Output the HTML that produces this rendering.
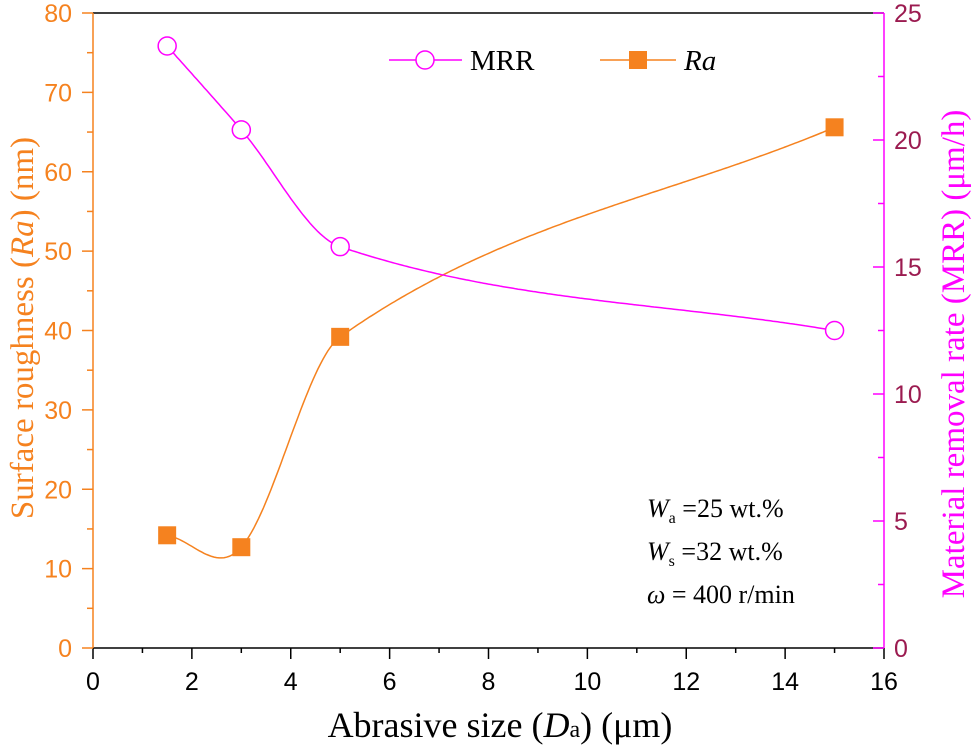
<!DOCTYPE html>
<html><head><meta charset="utf-8"><style>
body{margin:0;background:#fff}
svg{display:block;font-family:"Liberation Sans",sans-serif}
.serif{font-family:"Liberation Serif",serif}
</style></head><body>
<svg id="chart" width="975" height="746" xmlns="http://www.w3.org/2000/svg">
<g id="axes"></g><g id="series"></g>
<g class="serif">
 <line x1="389" y1="60" x2="462" y2="60" stroke="#ff00ff" stroke-width="1.5"/>
 <circle cx="425" cy="60" r="9" fill="#fff" stroke="#ff00ff" stroke-width="1.5"/>
 <text x="470" y="70" font-size="29">MRR</text>
 <line x1="600" y1="60" x2="676" y2="60" stroke="#f5821f" stroke-width="1.5"/>
 <rect x="629" y="51" width="18" height="18" fill="#f5821f"/>
 <text x="684" y="70" font-size="29" font-style="italic">Ra</text>
</g>
<g class="serif" font-size="26">
 <text x="647" y="517"><tspan font-style="italic">W</tspan><tspan font-size="16" dy="6">a</tspan><tspan dy="-6"> =25 wt.%</tspan></text>
 <text x="647" y="560"><tspan font-style="italic">W</tspan><tspan font-size="16" dy="6">s</tspan><tspan dy="-6"> =32 wt.%</tspan></text>
 <text x="647" y="603"><tspan font-style="italic">ω</tspan> = 400 r/min</text>
</g>
<text class="serif" x="500" y="737" font-size="36" text-anchor="middle">Abrasive size (<tspan font-style="italic">D</tspan><tspan font-size="24">a</tspan>) (μm)</text>
<text class="serif" transform="translate(33,328) rotate(-90)" font-size="33" fill="#f5821f" text-anchor="middle">Surface roughness (<tspan font-style="italic">Ra</tspan>) (nm)</text>
<text class="serif" transform="translate(964,354) rotate(-90)" font-size="33" fill="#ff00ff" text-anchor="middle">Material removal rate (MRR) (μm/h)</text>
</svg>
<script>
const sizes=[1.5,3,5,15];
const raValues=[14.2,12.7,39.2,65.6];
const mrrValues=[23.7,20.4,15.8,12.5];
const xTicks=[0,2,4,6,8,10,12,14,16];
const leftTicks=[0,10,20,30,40,50,60,70,80];
const rightTicks=[0,5,10,15,20,25];

const L=93,R=884,T=13,B=648;
const X=v=>L+(v-0)/16*(R-L);
const YL=v=>B-v/80*(B-T);
const YR=v=>B-v/25*(B-T);
const NS="http://www.w3.org/2000/svg";
function mk(tag,attrs,parent){const e=document.createElementNS(NS,tag);for(const k in attrs)e.setAttribute(k,attrs[k]);parent.appendChild(e);return e;}
const ax=document.getElementById('axes'),se=document.getElementById('series');
let e;
e=mk('line',{x1:L,y1:T,x2:R,y2:T,stroke:'#000','stroke-width':1.5},ax);


e=mk('line',{x1:L,y1:B,x2:R,y2:B,stroke:'#000','stroke-width':1.5},ax);


e=mk('line',{x1:L,y1:T,x2:L,y2:B,stroke:'#f5821f','stroke-width':1.5},ax);


e=mk('line',{x1:R,y1:T,x2:R,y2:B,stroke:'#ff00ff','stroke-width':1.5},ax);


for(let v=0;v<=16;v++){mk('line',{x1:X(v),y1:B,x2:X(v),y2:B+(v%2?5:11),stroke:'#000','stroke-width':1.5},ax);}
xTicks.forEach(v=>{e=mk('text',{x:X(v),y:B+42,'font-size':25,'text-anchor':'middle'},ax);e.textContent=v;

});
for(let v=0;v<=80;v+=5){mk('line',{x1:L,y1:YL(v),x2:L-(v%10?6:11),y2:YL(v),stroke:'#f5821f','stroke-width':1.5},ax);}
leftTicks.forEach(v=>{e=mk('text',{x:L-21,y:YL(v)+9,'font-size':25,'text-anchor':'end',fill:'#f5821f'},ax);e.textContent=v;

});
for(let v=0;v<=25;v+=2.5){mk('line',{x1:R,y1:YR(v),x2:R-(v%5?6:11),y2:YR(v),stroke:'#ff00ff','stroke-width':1.5},ax);}
rightTicks.forEach(v=>{e=mk('text',{x:R+10,y:YR(v)+9,'font-size':25,fill:'#9b1b50'},ax);e.textContent=v;

});

function hermite(xs,ys){const n=xs.length,m=[];
for(let i=0;i<n;i++){if(i==0)m[i]=(ys[1]-ys[0])/(xs[1]-xs[0]);else if(i==n-1)m[i]=(ys[i]-ys[i-1])/(xs[i]-xs[i-1]);else m[i]=(ys[i+1]-ys[i-1])/(xs[i+1]-xs[i-1]);}
return x=>{let i=0;while(i<n-2&&x>xs[i+1])i++;const h=xs[i+1]-xs[i],t=(x-xs[i])/h,t2=t*t,t3=t2*t;
return (2*t3-3*t2+1)*ys[i]+(t3-2*t2+t)*h*m[i]+(-2*t3+3*t2)*ys[i+1]+(t3-t2)*h*m[i+1];};}
function curve(vals,Y,color,name){const f=hermite(sizes,vals);let p='';
for(let x=sizes[0];x<=sizes[sizes.length-1]+1e-9;x+=0.05)p+=(p?'L':'M')+X(x).toFixed(1)+','+Y(f(x)).toFixed(1);
const el=mk('path',{d:p,fill:'none',stroke:color,'stroke-width':1.5},se);

}
curve(raValues,YL,'#f5821f','ra-line');
curve(mrrValues,YR,'#ff00ff','mrr-line');
sizes.forEach((s,i)=>{
 e=mk('rect',{x:X(s)-9,y:YL(raValues[i])-9,width:18,height:18,fill:'#f5821f'},se);
 
 
 e=mk('circle',{cx:X(s),cy:YR(mrrValues[i]),r:9,fill:'#fff',stroke:'#ff00ff','stroke-width':1.5},se);
 
 
});
</script>
</body></html>
